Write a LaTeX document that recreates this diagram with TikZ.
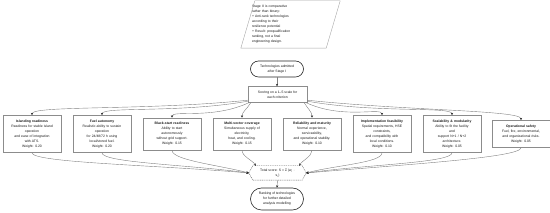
\documentclass[tikz,border=0pt]{standalone}
\usepackage{fontspec}
\setmainfont{Liberation Sans}
\usetikzlibrary{arrows.meta,calc}
\begin{document}
\begin{tikzpicture}[x=1pt,y=1pt,
  every node/.style={font=\fontsize{3.4}{5}\selectfont, text=black!90},
  crit/.style={draw=black!45, fill=white, line width=0.4pt, text width=54pt, align=center,
    inner xsep=2pt, inner ysep=4.5pt, minimum width=58pt},
  stad/.style={draw=black!85, fill=white, line width=0.6pt, align=center,
    minimum width=53pt, inner sep=1.5pt},
  plainbox/.style={draw=black!45, fill=white, line width=0.4pt, align=center,
    minimum width=59pt, minimum height=16pt, inner sep=1.5pt},
  notebox/.style={text width=77pt, align=left, inner xsep=4pt, inner ysep=2pt,
    minimum width=85pt, minimum height=47pt},
  noteline/.style={draw=black!35, line width=0.4pt},
  totbox/.style={align=center, minimum width=49pt, minimum height=14pt, inner sep=1pt},
  hexline/.style={draw=black!65, fill=white, line width=0.4pt, dash pattern=on 1pt off 0.8pt},
  arr/.style={draw=black!50, line width=0.4pt, -{Stealth[length=2.4pt,width=2.2pt,black!85]}},
]
\useasboundingbox (0,0) rectangle (550,213);

% note
\node[notebox] (note) at (290.5,188.5) {Stage II is comparative\\rather than binary:\\+ Anti-rank technologies\\according to their\\resilience potential\\+ Result: prequalification\\ranking, not a final\\engineering design.};
\draw[noteline] ([xshift=7pt]note.north west) -- ([xshift=7pt]note.north east)
  -- ([xshift=-7pt]note.south east) -- ([xshift=-7pt]note.south west) -- cycle;

% top column
\node[stad, minimum height=16pt, rounded corners=8pt] (adm) at (277,144) {Technologies admitted\\after Stage I};
\node[plainbox] (score) at (277.5,118.5) {Scoring on a 1--5 scale for\\each criterion};

% criteria
\node[crit] (c1) at (32,79) {\textbf{Islanding readiness}\\Readiness for stable island\\operation\\and ease of integration\\with ATS.\\Weight: 0.20};
\node[crit] (c2) at (102,79) {\textbf{Fuel autonomy}\\Realistic ability to sustain\\operation\\for 24/48/72 h using\\local/stored fuel.\\Weight: 0.20};
\node[crit] (c3) at (172,79) {\textbf{Black-start readiness}\\Ability to start\\autonomously\\without grid support.\\Weight: 0.15};
\node[crit] (c4) at (242,79) {\textbf{Multi-vector coverage}\\Simultaneous supply of\\electricity,\\heat, and cooling.\\Weight: 0.15};
\node[crit] (c5) at (312,79) {\textbf{Reliability and maturity}\\Normal experience,\\serviceability,\\and operational stability.\\Weight: 0.10};
\node[crit] (c6) at (382,79) {\textbf{Implementation feasibility}\\Spatial requirements, HSE\\constraints,\\and compatibility with\\local conditions.\\Weight: 0.10};
\node[crit] (c7) at (452,79) {\textbf{Scalability \& modularity}\\Ability to fit the facility\\and\\support N+1 / N+2\\architecture.\\Weight: 0.05};
\node[crit] (c8) at (521,79) {\textbf{Operational safety}\\Fuel, fire, environmental,\\and organizational risks.\\Weight: 0.05};

% total score hexagon
\node[totbox] (tot) at (277.5,40) {};
\draw[hexline] ([xshift=-4pt]tot.west) -- (tot.north west) -- (tot.north east)
  -- ([xshift=4pt]tot.east) -- (tot.south east) -- (tot.south west) -- cycle;
\node[totbox] (totT) at (tot.center) {Total score: S = Σ (w\textsubscript{i} ·\\s\textsubscript{i})};
\coordinate (totL) at ([xshift=-4pt]tot.west);
\coordinate (totR) at ([xshift=4pt]tot.east);

% ranking
\node[stad, minimum height=22pt, rounded corners=11pt] (rank) at (277,14) {Ranking of technologies\\for further detailed\\analysis modelling};

% connectors
\draw[arr] (adm.south) -- (adm.south |- score.north);

\draw[arr] ([yshift=2.5pt]score.south west) to[out=186,in=90,out distance=100pt,in distance=10pt] (c1.north);
\draw[arr] ([yshift=1.5pt]score.south west) to[out=190,in=90,out distance=70pt,in distance=9pt] (c2.north);
\draw[arr] ([xshift=1pt]score.south west) to[out=205,in=90,out distance=40pt,in distance=8pt] (c3.north);
\draw[arr] ([xshift=3pt]score.south west) to[out=240,in=90,out distance=7pt,in distance=6pt] (c4.north);
\draw[arr] ([xshift=-3pt]score.south east) to[out=-60,in=90,out distance=7pt,in distance=6pt] (c5.north);
\draw[arr] ([xshift=-1pt]score.south east) to[out=-25,in=90,out distance=40pt,in distance=8pt] (c6.north);
\draw[arr] ([yshift=1.5pt]score.south east) to[out=-10,in=90,out distance=70pt,in distance=9pt] (c7.north);
\draw[arr] ([yshift=2.5pt]score.south east) to[out=-6,in=90,out distance=100pt,in distance=10pt] (c8.north);

\draw[arr] (c1.south) to[out=-90,in=175,out distance=10pt,in distance=90pt] (totL);
\draw[arr] (c2.south) to[out=-90,in=172,out distance=10pt,in distance=60pt] (totL);
\draw[arr] (c3.south) to[out=-90,in=165,out distance=10pt,in distance=30pt] (totL);
\draw[arr] (c4.south) to[out=-90,in=120,out distance=6pt,in distance=6pt] ([xshift=3pt]tot.north west);
\draw[arr] (c5.south) to[out=-90,in=60,out distance=6pt,in distance=6pt] ([xshift=-3pt]tot.north east);
\draw[arr] (c6.south) to[out=-90,in=15,out distance=10pt,in distance=30pt] (totR);
\draw[arr] (c7.south) to[out=-90,in=8,out distance=10pt,in distance=60pt] (totR);
\draw[arr] (c8.south) to[out=-90,in=5,out distance=10pt,in distance=90pt] (totR);

\draw[arr] (tot.south) -- (rank.north);
\end{tikzpicture}
\end{document}
